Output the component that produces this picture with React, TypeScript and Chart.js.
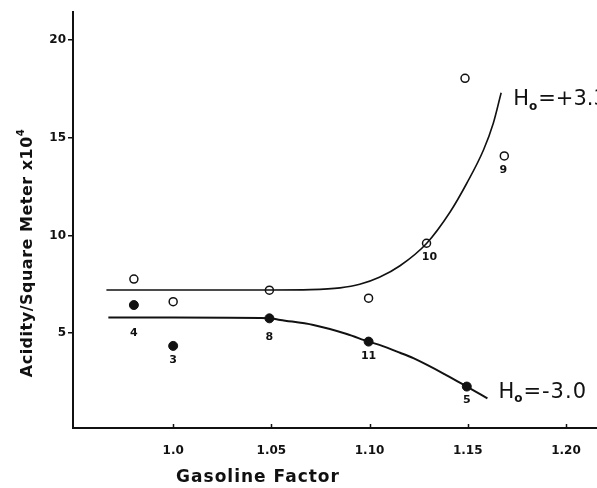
import React, { useEffect, useRef } from "react";
import { Chart, registerables } from "chart.js";

Chart.register(...registerables);

// ---- data ----
const OPEN_X = [0.98, 1.0, 1.049, 1.0995, 1.129, 1.1486, 1.1686];
const OPEN_Y = [7.77, 6.61, 7.2, 6.79, 9.6, 18.04, 14.07];
const OPEN_LABELS = ["", "", "", "", "10", "", "9"];

const FILLED_X = [0.98, 1.0, 1.049, 1.0995, 1.1495];
const FILLED_Y = [6.44, 4.35, 5.76, 4.57, 2.27];
const FILLED_LABELS = ["4", "3", "8", "11", "5"];

const UPPER_CURVE_X = [0.966, 1.0, 1.05, 1.07, 1.085, 1.095, 1.105, 1.1155, 1.129, 1.141, 1.1495, 1.158, 1.163, 1.167];
const UPPER_CURVE_Y = [7.21, 7.21, 7.21, 7.23, 7.32, 7.5, 7.86, 8.45, 9.59, 11.2, 12.67, 14.37, 15.74, 17.3];

const LOWER_CURVE_X = [0.967, 1.0, 1.049, 1.0545, 1.0714, 1.0884, 1.0994, 1.105, 1.1155, 1.1223, 1.139, 1.1495, 1.16];
const LOWER_CURVE_Y = [5.8, 5.8, 5.77, 5.68, 5.42, 4.96, 4.57, 4.4, 4.0, 3.72, 2.86, 2.27, 1.67];

const UPPER_CURVE_LABEL = "=+3.3";
const LOWER_CURVE_LABEL = "=-3.0";

const X_TICKS = [1.0, 1.05, 1.1, 1.15, 1.2];
const X_TICK_LABELS = ["1.0", "1.05", "1.10", "1.15", "1.20"];
const Y_TICKS = [5, 10, 15, 20];
const Y_TICK_LABELS = ["5", "10", "15", "20"];

const X_TITLE = "Gasoline Factor";
const Y_TITLE = "Acidity/Square Meter x10";
const Y_TITLE_SUP = "4";

// ---- styling ----
const FONT = "'DejaVu Sans', sans-serif";
const INK = "#111";
// label offsets (px) below each point
const FILLED_LABEL_DY = [28, 14, 19, 15, 14];
const OPEN_LABEL_DX = [0, 0, 0, 0, 3, 0, -1];
const OPEN_LABEL_DY = [0, 0, 0, 0, 14, 0, 14];

const toXY = (xs: number[], ys: number[]) => xs.map((x, i) => ({ x, y: ys[i] }));

export default function App() {
  const ref = useRef<HTMLCanvasElement>(null);

  useEffect(() => {
    document.body.style.margin = "0";
    const canvas = ref.current!;

    const drawH = (ctx: CanvasRenderingContext2D, x: number, y: number, rest: string, spacing: string) => {
      ctx.textAlign = "left";
      ctx.textBaseline = "middle";
      ctx.font = `21px ${FONT}`;
      (ctx as any).letterSpacing = "0px";
      ctx.fillText("H", x, y);
      const wH = ctx.measureText("H").width;
      ctx.font = `bold 12px ${FONT}`;
      ctx.fillText("o", x + wH, y + 7);
      const wo = ctx.measureText("o").width;
      ctx.font = `21px ${FONT}`;
      (ctx as any).letterSpacing = spacing;
      ctx.fillText(rest, x + wH + wo + 1, y);
      (ctx as any).letterSpacing = "0px";
    };

    const overlay = {
      id: "overlay",
      afterDraw(chart: any) {
        const ctx: CanvasRenderingContext2D = chart.ctx;
        const xs = chart.scales.x;
        const ys = chart.scales.y;
        ctx.save();
        ctx.fillStyle = INK;
        ctx.strokeStyle = INK;

        // inward x tick marks
        ctx.lineWidth = 1.5;
        X_TICKS.forEach((v) => {
          const px = Math.round(xs.getPixelForValue(v)) + 0.5;
          ctx.beginPath();
          ctx.moveTo(px, ys.bottom);
          ctx.lineTo(px, ys.bottom - 4);
          ctx.stroke();
        });

        // point number labels
        ctx.font = `bold 11px ${FONT}`;
        ctx.textAlign = "center";
        ctx.textBaseline = "middle";
        FILLED_LABELS.forEach((t, i) => {
          if (!t) return;
          const px = xs.getPixelForValue(FILLED_X[i]);
          const py = ys.getPixelForValue(FILLED_Y[i]);
          ctx.fillText(t, px, py + FILLED_LABEL_DY[i]);
        });
        OPEN_LABELS.forEach((t, i) => {
          if (!t) return;
          const px = xs.getPixelForValue(OPEN_X[i]);
          const py = ys.getPixelForValue(OPEN_Y[i]);
          ctx.fillText(t, px + OPEN_LABEL_DX[i], py + OPEN_LABEL_DY[i]);
        });

        // curve labels
        const ux = xs.getPixelForValue(UPPER_CURVE_X[UPPER_CURVE_X.length - 1]);
        const uy = ys.getPixelForValue(UPPER_CURVE_Y[UPPER_CURVE_Y.length - 1]);
        drawH(ctx, ux + 12, uy + 7, UPPER_CURVE_LABEL, "0px");
        const lx = xs.getPixelForValue(LOWER_CURVE_X[LOWER_CURVE_X.length - 1]);
        const ly = ys.getPixelForValue(LOWER_CURVE_Y[LOWER_CURVE_Y.length - 1]);
        drawH(ctx, lx + 11, ly - 6, LOWER_CURVE_LABEL, "1px");

        // x title
        ctx.font = `bold 17px ${FONT}`;
        (ctx as any).letterSpacing = "1px";
        ctx.textAlign = "center";
        ctx.textBaseline = "middle";
        ctx.fillText(X_TITLE, 258, 478);

        // y title (rotated)
        ctx.save();
        ctx.translate(28, 253);
        ctx.rotate(-Math.PI / 2);
        ctx.font = `bold 16px ${FONT}`;
        (ctx as any).letterSpacing = "0.5px";
        const w1 = ctx.measureText(Y_TITLE).width;
        ctx.font = `bold 10px ${FONT}`;
        const w2 = ctx.measureText(Y_TITLE_SUP).width;
        const start = -(w1 + w2) / 2;
        ctx.textAlign = "left";
        ctx.font = `bold 16px ${FONT}`;
        ctx.fillText(Y_TITLE, start, 0);
        ctx.font = `bold 10px ${FONT}`;
        ctx.fillText(Y_TITLE_SUP, start + w1, -7);
        ctx.restore();

        (ctx as any).letterSpacing = "0px";
        ctx.restore();
      },
    };

    const chart = new Chart(canvas, {
      type: "scatter",
      data: {
        datasets: [
          {
            label: "open",
            data: toXY(OPEN_X, OPEN_Y),
            pointStyle: "circle",
            pointRadius: 4,
            pointBackgroundColor: "rgba(0,0,0,0)",
            pointBorderColor: INK,
            pointBorderWidth: 1.5,
            showLine: false,
            order: 0,
          },
          {
            label: "filled",
            data: toXY(FILLED_X, FILLED_Y),
            pointStyle: "circle",
            pointRadius: 4.5,
            pointBackgroundColor: INK,
            pointBorderColor: INK,
            pointBorderWidth: 1,
            showLine: false,
            order: 0,
          },
          {
            label: "upper",
            data: toXY(UPPER_CURVE_X, UPPER_CURVE_Y),
            showLine: true,
            borderColor: INK,
            borderWidth: 1.6,
            pointRadius: 0,
            cubicInterpolationMode: "monotone",
            fill: false,
            order: 1,
          },
          {
            label: "lower",
            data: toXY(LOWER_CURVE_X, LOWER_CURVE_Y),
            showLine: true,
            borderColor: INK,
            borderWidth: 2,
            pointRadius: 0,
            cubicInterpolationMode: "monotone",
            fill: false,
            order: 1,
          },
        ],
      } as any,
      options: {
        responsive: false,
        animation: false,
        events: [],
        layout: { autoPadding: false, padding: { top: 12, right: 0, left: 0, bottom: 0 } },
        plugins: { legend: { display: false }, tooltip: { enabled: false } },
        scales: {
          x: {
            type: "linear",
            min: 0.949,
            max: 1.2158,
            afterBuildTicks: (s: any) => {
              s.ticks = X_TICKS.map((v) => ({ value: v }));
            },
            afterFit: (s: any) => {
              s.height = 60;
              s.paddingLeft = 0;
              s.paddingRight = 0;
            },
            grid: { display: false },
            border: { display: true, color: INK, width: 2 },
            ticks: {
              autoSkip: false,
              maxRotation: 0,
              padding: 8,
              color: INK,
              font: { family: FONT, size: 12, weight: "bold" },
              callback: (_v: any, i: number) => X_TICK_LABELS[i],
            },
          },
          y: {
            type: "linear",
            min: 0.15,
            max: 21.43,
            afterBuildTicks: (s: any) => {
              s.ticks = Y_TICKS.map((v) => ({ value: v }));
            },
            afterFit: (s: any) => {
              s.width = 73;
              s.paddingTop = 0;
              s.paddingBottom = 0;
            },
            grid: {
              display: true,
              drawOnChartArea: false,
              drawTicks: true,
              tickLength: 5,
              color: INK,
              lineWidth: 1.5,
            },
            border: { display: true, color: INK, width: 2 },
            ticks: {
              autoSkip: false,
              padding: 2,
              color: INK,
              font: { family: FONT, size: 12, weight: "bold" },
              callback: (_v: any, i: number) => Y_TICK_LABELS[i],
            },
          },
        },
      } as any,
      plugins: [overlay],
    });

    return () => chart.destroy();
  }, []);

  return (
    <canvas
      ref={ref}
      width={597}
      height={488}
      style={{ display: "block", width: 597, height: 488 }}
    />
  );
}
